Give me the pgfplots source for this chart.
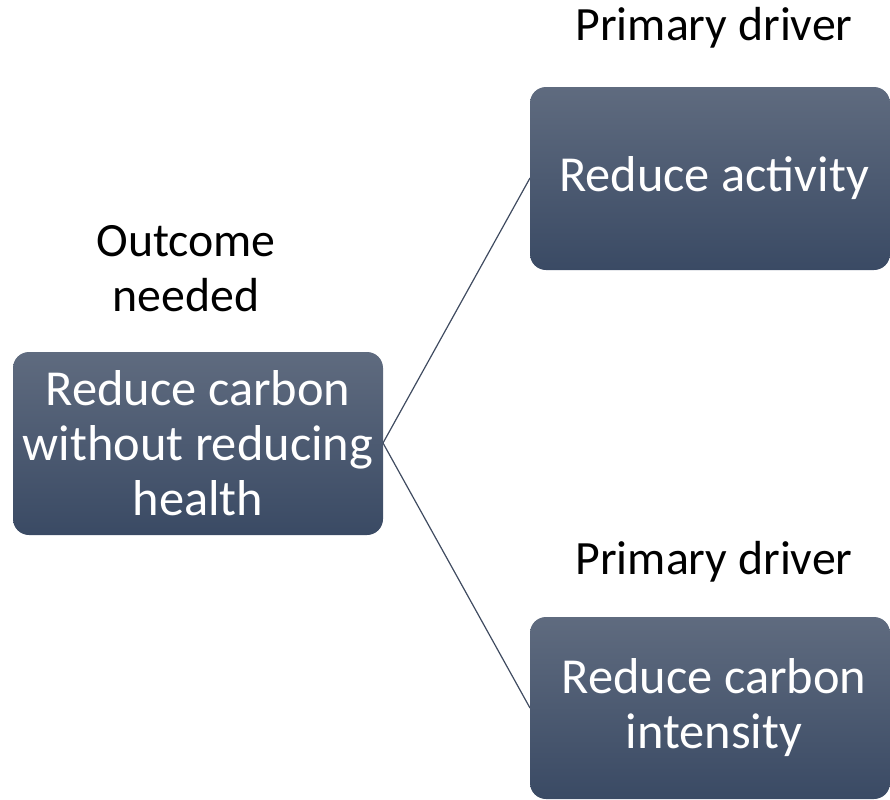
\documentclass[border=0pt]{standalone}
\usepackage{pgfplots}
\pgfplotsset{compat=1.18}
\usepackage{fontspec}
\setmainfont{Carlito}
\definecolor{boxtop}{HTML}{5F6B7F}
\definecolor{boxbot}{HTML}{3A4A64}
\definecolor{linec}{HTML}{3F4B60}
\begin{document}
\begin{tikzpicture}
\begin{axis}[
  scale only axis, width=445pt, height=399.5pt,
  xmin=0, xmax=890, ymin=0, ymax=799, y dir=reverse,
  axis lines=none, clip=false,
]
% connector lines
\addplot[linec, line width=0.6pt, no marks] coordinates {(383,443) (530,178)};
\addplot[linec, line width=0.6pt, no marks] coordinates {(383,443) (530,708)};
% boxes
\shade[top color=boxtop, bottom color=boxbot, rounded corners=8pt]
  (axis cs:13,352) rectangle (axis cs:383,535);
\shade[top color=boxtop, bottom color=boxbot, rounded corners=8pt]
  (axis cs:530,87) rectangle (axis cs:890,270);
\shade[top color=boxtop, bottom color=boxbot, rounded corners=8pt]
  (axis cs:530,617) rectangle (axis cs:890,799);
% texts
\node[white, align=center, font=\fontsize{25.2}{27.5}\selectfont] at (axis cs:198,443)
  {Reduce carbon\\without reducing\\health};
\node[white, align=center, font=\fontsize{25.2}{27.5}\selectfont] at (axis cs:714,178)
  {Reduce activity};
\node[white, align=center, font=\fontsize{25.2}{27.5}\selectfont] at (axis cs:714,708)
  {Reduce carbon\\intensity};
\node[black, align=center, font=\fontsize{23.9}{27.5}\selectfont] at (axis cs:186,269)
  {Outcome\\needed};
\node[black, align=center, font=\fontsize{23.9}{27.5}\selectfont] at (axis cs:714,28)
  {Primary driver};
\node[black, align=center, font=\fontsize{23.9}{27.5}\selectfont] at (axis cs:714,562)
  {Primary driver};
\coordinate (BL) at (axis cs:0,799);
\coordinate (TR) at (axis cs:890,0);
\end{axis}
\pgfresetboundingbox
\path (BL) rectangle (TR);
\end{tikzpicture}
\end{document}
